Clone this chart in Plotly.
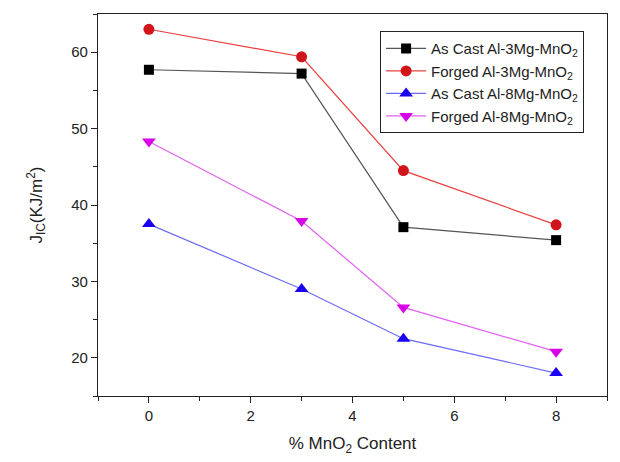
import plotly.graph_objects as go

mno2 = [0, 3, 5, 8]
as_cast_3mg = [57.7, 57.2, 37.1, 35.4]
forged_3mg = [63.0, 59.4, 44.5, 37.4]
as_cast_8mg = [37.5, 29.0, 22.5, 18.0]
forged_8mg = [48.3, 37.9, 26.6, 20.8]

series = [
    ("As Cast Al-3Mg-MnO<sub>2</sub>", as_cast_3mg, "#000000", "#555555", "square", 10),
    ("Forged Al-3Mg-MnO<sub>2</sub>", forged_3mg, "#d0151b", "#e8403f", "circle", 11),
    ("As Cast Al-8Mg-MnO<sub>2</sub>", as_cast_8mg, "#1a00f0", "#6a6af5", "triangle-up", 12),
    ("Forged Al-8Mg-MnO<sub>2</sub>", forged_8mg, "#d800e8", "#e060f0", "triangle-down", 12),
]

fig = go.Figure()
for name, vals, mc, lc, sym, sz in series:
    fig.add_trace(go.Scatter(
        x=mno2, y=vals, name=name, mode="lines+markers",
        line=dict(color=lc, width=1.2),
        marker=dict(symbol=sym, size=sz, color=mc, line=dict(width=0)),
    ))

font_family = "Liberation Sans, Arial, sans-serif"
axis_common = dict(
    showline=True, linecolor="#222", linewidth=1.2, mirror=True,
    ticks="outside", ticklen=6, tickwidth=1.2, tickcolor="#222",
    showgrid=False, zeroline=False,
    tickfont=dict(family=font_family, size=15, color="#222"),
)

fig.update_layout(
    width=620, height=462,
    margin=dict(l=90, r=21, t=6, b=74),
    paper_bgcolor="white", plot_bgcolor="white",
    font=dict(family=font_family, color="#222"),
    xaxis=dict(range=[-1, 9], tickvals=[0, 2, 4, 6, 8],
               minor=dict(tickvals=[-1, 1, 3, 5, 7, 9], ticks="outside", ticklen=4, tickcolor="#222"),
               title=dict(text="% MnO<sub>2</sub> Content", font=dict(size=17, family=font_family), standoff=14),
               **axis_common),
    yaxis=dict(range=[15, 65], tickvals=[20, 30, 40, 50, 60],
               minor=dict(tickvals=[15, 25, 35, 45, 55, 65], ticks="outside", ticklen=4, tickcolor="#222"),
               title=dict(text="J<sub>IC</sub>(KJ/m<sup>2</sup>)", font=dict(size=17, family=font_family), standoff=24),
               **axis_common),
    legend=dict(x=0.955, y=0.955, xanchor="right", yanchor="top",
                bordercolor="#222", borderwidth=1, bgcolor="white",
                font=dict(family=font_family, size=15, color="#222"),
                itemwidth=40),
    showlegend=True,
)

fig.write_html("out.html")
